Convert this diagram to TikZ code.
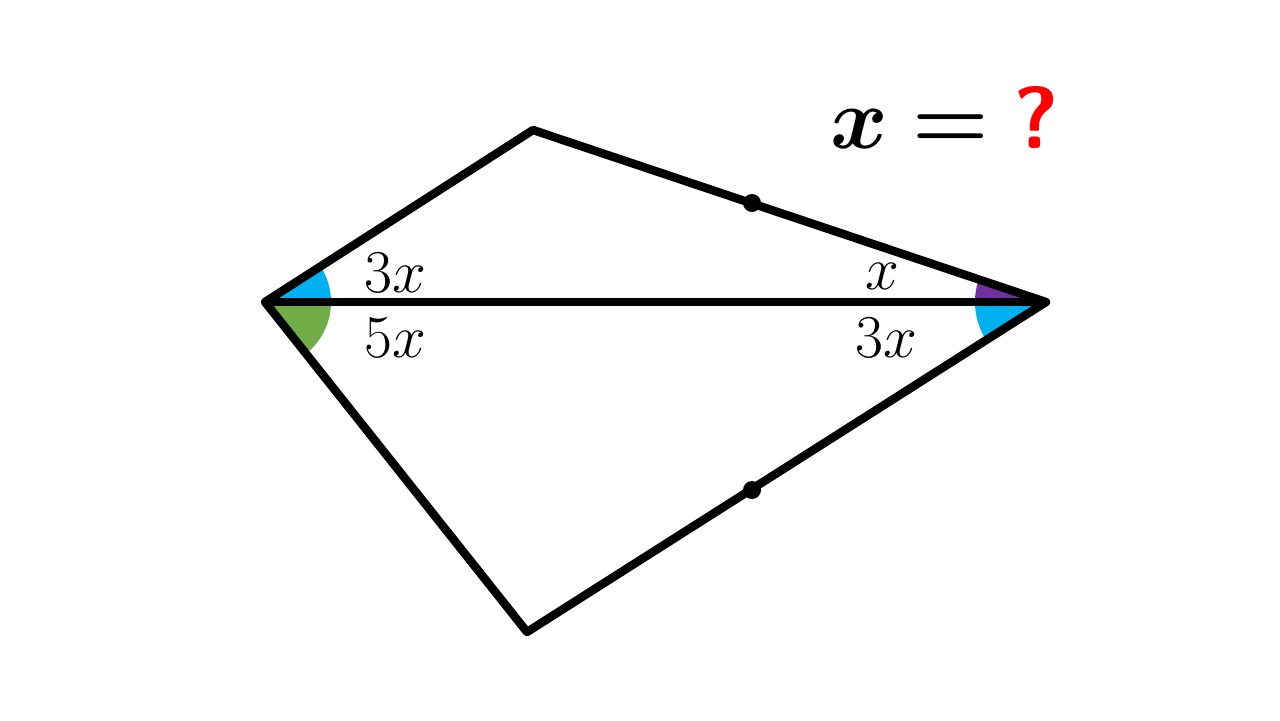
\documentclass[tikz,border=0pt]{standalone}
\usepackage{amsmath}
\usepackage{tikz}
\usetikzlibrary{angles}
\definecolor{angblue}{HTML}{00B0F0}
\definecolor{anggreen}{HTML}{70AD47}
\definecolor{angpurple}{HTML}{7030A0}
\definecolor{qred}{HTML}{FF0000}
\begin{document}
\begin{tikzpicture}[x=0.01cm,y=0.01cm,
    edge/.style={line width=2.4pt,line join=round},
    lbl/.style={font=\fontsize{18}{20}\selectfont}]
\useasboundingbox (0,0) rectangle (1280,720);
\coordinate (A) at (265,418);
\coordinate (B) at (533,590);
\coordinate (C) at (1046,418);
\coordinate (D) at (527,88);
% angle marks
\pic[fill=angblue,angle radius=0.66cm]{angle=C--A--B};
\pic[fill=anggreen,angle radius=0.66cm]{angle=D--A--C};
\pic[fill=angpurple,angle radius=0.71cm]{angle=B--C--A};
\pic[fill=angblue,angle radius=0.71cm]{angle=A--C--D};
% kite
\draw[edge] (A) -- (B) -- (C) -- (D) -- cycle;
\draw[edge] (A) -- (C);
\fill (752,517) circle (9) coordinate (m1);
\fill (752,230) circle (9) coordinate (m2);
\node[lbl] (a1) at (395,447) {$3x$};
\node[lbl] (a2) at (395,382) {$5x$};
\node[lbl] (c1) at (882,444) {$x$};
\node[lbl] (c2) at (886,382) {$3x$};
\node[font=\fontsize{25}{28}\selectfont] (q) at (945,602)
    {$\boldsymbol{x}\boldsymbol{=}\textcolor{qred}{\textbf{\textsf{?}}}$};
\end{tikzpicture}
\end{document}
